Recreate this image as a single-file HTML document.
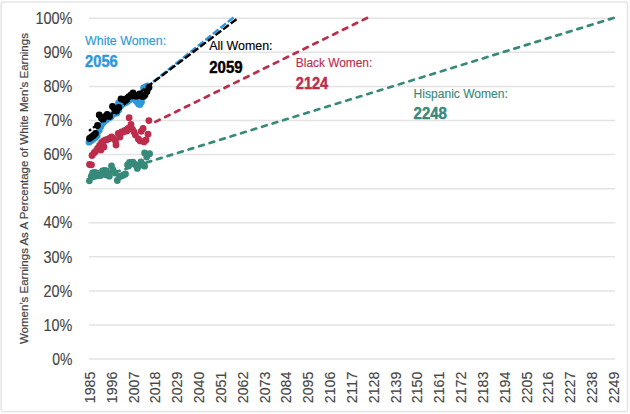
<!DOCTYPE html><html><head><meta charset="utf-8"><style>
html,body{margin:0;padding:0;background:#fff;}
body{width:630px;height:414px;overflow:hidden;}
svg{display:block;font-family:"Liberation Sans",sans-serif;}
</style></head><body>
<svg width="630" height="414" viewBox="0 0 630 414">
<rect x="1.2" y="2" width="626.4" height="409.6" rx="2" fill="#fff" stroke="#E6E6E6" stroke-width="1.6"/>
<line x1="89.0" y1="359.10" x2="615.0" y2="359.10" stroke="#E3E3E3" stroke-width="1.5"/>
<line x1="89.0" y1="325.01" x2="615.0" y2="325.01" stroke="#E3E3E3" stroke-width="1.5"/>
<line x1="89.0" y1="290.92" x2="615.0" y2="290.92" stroke="#E3E3E3" stroke-width="1.5"/>
<line x1="89.0" y1="256.83" x2="615.0" y2="256.83" stroke="#E3E3E3" stroke-width="1.5"/>
<line x1="89.0" y1="222.74" x2="615.0" y2="222.74" stroke="#E3E3E3" stroke-width="1.5"/>
<line x1="89.0" y1="188.65" x2="615.0" y2="188.65" stroke="#E3E3E3" stroke-width="1.5"/>
<line x1="89.0" y1="154.56" x2="615.0" y2="154.56" stroke="#E3E3E3" stroke-width="1.5"/>
<line x1="89.0" y1="120.47" x2="615.0" y2="120.47" stroke="#E3E3E3" stroke-width="1.5"/>
<line x1="89.0" y1="86.38" x2="615.0" y2="86.38" stroke="#E3E3E3" stroke-width="1.5"/>
<line x1="89.0" y1="52.29" x2="615.0" y2="52.29" stroke="#E3E3E3" stroke-width="1.5"/>
<line x1="89.0" y1="18.20" x2="615.0" y2="18.20" stroke="#E3E3E3" stroke-width="1.5"/>
<text x="72.4" y="364.80" text-anchor="end" font-size="15.8" fill="#464646" stroke="#464646" stroke-width="0.15" textLength="20.2" lengthAdjust="spacingAndGlyphs">0%</text>
<text x="72.4" y="330.71" text-anchor="end" font-size="15.8" fill="#464646" stroke="#464646" stroke-width="0.15" textLength="28.8" lengthAdjust="spacingAndGlyphs">10%</text>
<text x="72.4" y="296.62" text-anchor="end" font-size="15.8" fill="#464646" stroke="#464646" stroke-width="0.15" textLength="28.8" lengthAdjust="spacingAndGlyphs">20%</text>
<text x="72.4" y="262.53" text-anchor="end" font-size="15.8" fill="#464646" stroke="#464646" stroke-width="0.15" textLength="28.8" lengthAdjust="spacingAndGlyphs">30%</text>
<text x="72.4" y="228.44" text-anchor="end" font-size="15.8" fill="#464646" stroke="#464646" stroke-width="0.15" textLength="28.8" lengthAdjust="spacingAndGlyphs">40%</text>
<text x="72.4" y="194.35" text-anchor="end" font-size="15.8" fill="#464646" stroke="#464646" stroke-width="0.15" textLength="28.8" lengthAdjust="spacingAndGlyphs">50%</text>
<text x="72.4" y="160.26" text-anchor="end" font-size="15.8" fill="#464646" stroke="#464646" stroke-width="0.15" textLength="28.8" lengthAdjust="spacingAndGlyphs">60%</text>
<text x="72.4" y="126.17" text-anchor="end" font-size="15.8" fill="#464646" stroke="#464646" stroke-width="0.15" textLength="28.8" lengthAdjust="spacingAndGlyphs">70%</text>
<text x="72.4" y="92.08" text-anchor="end" font-size="15.8" fill="#464646" stroke="#464646" stroke-width="0.15" textLength="28.8" lengthAdjust="spacingAndGlyphs">80%</text>
<text x="72.4" y="57.99" text-anchor="end" font-size="15.8" fill="#464646" stroke="#464646" stroke-width="0.15" textLength="28.8" lengthAdjust="spacingAndGlyphs">90%</text>
<text x="72.4" y="23.90" text-anchor="end" font-size="15.8" fill="#464646" stroke="#464646" stroke-width="0.15" textLength="37.0" lengthAdjust="spacingAndGlyphs">100%</text>
<text transform="translate(94.89,371.6) rotate(-90)" text-anchor="end" font-size="15" fill="#464646" stroke="#464646" stroke-width="0.15" textLength="31.6" lengthAdjust="spacingAndGlyphs">1985</text>
<text transform="translate(116.73,371.6) rotate(-90)" text-anchor="end" font-size="15" fill="#464646" stroke="#464646" stroke-width="0.15" textLength="31.6" lengthAdjust="spacingAndGlyphs">1996</text>
<text transform="translate(138.56,371.6) rotate(-90)" text-anchor="end" font-size="15" fill="#464646" stroke="#464646" stroke-width="0.15" textLength="31.6" lengthAdjust="spacingAndGlyphs">2007</text>
<text transform="translate(160.39,371.6) rotate(-90)" text-anchor="end" font-size="15" fill="#464646" stroke="#464646" stroke-width="0.15" textLength="31.6" lengthAdjust="spacingAndGlyphs">2018</text>
<text transform="translate(182.23,371.6) rotate(-90)" text-anchor="end" font-size="15" fill="#464646" stroke="#464646" stroke-width="0.15" textLength="31.6" lengthAdjust="spacingAndGlyphs">2029</text>
<text transform="translate(204.06,371.6) rotate(-90)" text-anchor="end" font-size="15" fill="#464646" stroke="#464646" stroke-width="0.15" textLength="31.6" lengthAdjust="spacingAndGlyphs">2040</text>
<text transform="translate(225.90,371.6) rotate(-90)" text-anchor="end" font-size="15" fill="#464646" stroke="#464646" stroke-width="0.15" textLength="31.6" lengthAdjust="spacingAndGlyphs">2051</text>
<text transform="translate(247.73,371.6) rotate(-90)" text-anchor="end" font-size="15" fill="#464646" stroke="#464646" stroke-width="0.15" textLength="31.6" lengthAdjust="spacingAndGlyphs">2062</text>
<text transform="translate(269.56,371.6) rotate(-90)" text-anchor="end" font-size="15" fill="#464646" stroke="#464646" stroke-width="0.15" textLength="31.6" lengthAdjust="spacingAndGlyphs">2073</text>
<text transform="translate(291.40,371.6) rotate(-90)" text-anchor="end" font-size="15" fill="#464646" stroke="#464646" stroke-width="0.15" textLength="31.6" lengthAdjust="spacingAndGlyphs">2084</text>
<text transform="translate(313.23,371.6) rotate(-90)" text-anchor="end" font-size="15" fill="#464646" stroke="#464646" stroke-width="0.15" textLength="31.6" lengthAdjust="spacingAndGlyphs">2095</text>
<text transform="translate(335.07,371.6) rotate(-90)" text-anchor="end" font-size="15" fill="#464646" stroke="#464646" stroke-width="0.15" textLength="31.6" lengthAdjust="spacingAndGlyphs">2106</text>
<text transform="translate(356.90,371.6) rotate(-90)" text-anchor="end" font-size="15" fill="#464646" stroke="#464646" stroke-width="0.15" textLength="31.6" lengthAdjust="spacingAndGlyphs">2117</text>
<text transform="translate(378.73,371.6) rotate(-90)" text-anchor="end" font-size="15" fill="#464646" stroke="#464646" stroke-width="0.15" textLength="31.6" lengthAdjust="spacingAndGlyphs">2128</text>
<text transform="translate(400.57,371.6) rotate(-90)" text-anchor="end" font-size="15" fill="#464646" stroke="#464646" stroke-width="0.15" textLength="31.6" lengthAdjust="spacingAndGlyphs">2139</text>
<text transform="translate(422.40,371.6) rotate(-90)" text-anchor="end" font-size="15" fill="#464646" stroke="#464646" stroke-width="0.15" textLength="31.6" lengthAdjust="spacingAndGlyphs">2150</text>
<text transform="translate(444.24,371.6) rotate(-90)" text-anchor="end" font-size="15" fill="#464646" stroke="#464646" stroke-width="0.15" textLength="31.6" lengthAdjust="spacingAndGlyphs">2161</text>
<text transform="translate(466.07,371.6) rotate(-90)" text-anchor="end" font-size="15" fill="#464646" stroke="#464646" stroke-width="0.15" textLength="31.6" lengthAdjust="spacingAndGlyphs">2172</text>
<text transform="translate(487.90,371.6) rotate(-90)" text-anchor="end" font-size="15" fill="#464646" stroke="#464646" stroke-width="0.15" textLength="31.6" lengthAdjust="spacingAndGlyphs">2183</text>
<text transform="translate(509.74,371.6) rotate(-90)" text-anchor="end" font-size="15" fill="#464646" stroke="#464646" stroke-width="0.15" textLength="31.6" lengthAdjust="spacingAndGlyphs">2194</text>
<text transform="translate(531.57,371.6) rotate(-90)" text-anchor="end" font-size="15" fill="#464646" stroke="#464646" stroke-width="0.15" textLength="31.6" lengthAdjust="spacingAndGlyphs">2205</text>
<text transform="translate(553.41,371.6) rotate(-90)" text-anchor="end" font-size="15" fill="#464646" stroke="#464646" stroke-width="0.15" textLength="31.6" lengthAdjust="spacingAndGlyphs">2216</text>
<text transform="translate(575.24,371.6) rotate(-90)" text-anchor="end" font-size="15" fill="#464646" stroke="#464646" stroke-width="0.15" textLength="31.6" lengthAdjust="spacingAndGlyphs">2227</text>
<text transform="translate(597.07,371.6) rotate(-90)" text-anchor="end" font-size="15" fill="#464646" stroke="#464646" stroke-width="0.15" textLength="31.6" lengthAdjust="spacingAndGlyphs">2238</text>
<text transform="translate(618.91,371.6) rotate(-90)" text-anchor="end" font-size="15" fill="#464646" stroke="#464646" stroke-width="0.15" textLength="31.6" lengthAdjust="spacingAndGlyphs">2249</text>
<text transform="translate(27.9,188.6) rotate(-90)" text-anchor="middle" font-size="11.8" fill="#464646" stroke="#464646" stroke-width="0.2" textLength="311" lengthAdjust="spacingAndGlyphs">Women’s Earnings As A Percentage of White Men’s Earnings</text>
<line x1="613.5" y1="18" x2="89" y2="180.3" stroke="#378A7A" stroke-width="2.75" stroke-dasharray="4.8 6.2" stroke-linecap="round"/>
<line x1="367" y1="18" x2="150" y2="124.5" stroke="#BC2D4C" stroke-width="2.75" stroke-dasharray="4.8 6.2" stroke-linecap="round"/>
<g fill="#378A7A"><circle cx="89.4" cy="180.8" r="3.4"/><circle cx="91.2" cy="176.5" r="3.4"/><circle cx="92.6" cy="173" r="3.4"/><circle cx="94.5" cy="172.5" r="3.4"/><circle cx="96.5" cy="173" r="3.4"/><circle cx="96" cy="175.5" r="3.4"/><circle cx="98.5" cy="175.5" r="3.4"/><circle cx="100.7" cy="175.5" r="3.4"/><circle cx="102.5" cy="171" r="3.4"/><circle cx="104.5" cy="170.5" r="3.4"/><circle cx="105.8" cy="174.8" r="3.4"/><circle cx="106.5" cy="171" r="3.4"/><circle cx="108.5" cy="174" r="3.4"/><circle cx="109.3" cy="176.2" r="3.4"/><circle cx="111.5" cy="166" r="3.4"/><circle cx="113" cy="170" r="3.4"/><circle cx="115" cy="173" r="3.4"/><circle cx="117.3" cy="180.5" r="3.4"/><circle cx="119.5" cy="176.5" r="3.4"/><circle cx="121.5" cy="176" r="3.4"/><circle cx="123.5" cy="175" r="3.4"/><circle cx="125.5" cy="174" r="3.4"/><circle cx="127.5" cy="165" r="3.4"/><circle cx="129.3" cy="164.8" r="3.4"/><circle cx="129.5" cy="162.5" r="3.4"/><circle cx="131.5" cy="162.5" r="3.4"/><circle cx="133" cy="162.2" r="3.4"/><circle cx="135" cy="164.5" r="3.4"/><circle cx="137.3" cy="168.4" r="3.4"/><circle cx="137.5" cy="166" r="3.4"/><circle cx="139.5" cy="165.5" r="3.4"/><circle cx="141" cy="161.8" r="3.4"/><circle cx="143" cy="164.5" r="3.4"/><circle cx="144.6" cy="166.2" r="3.4"/><circle cx="144.6" cy="153" r="3.4"/><circle cx="146.7" cy="157" r="3.4"/><circle cx="149.6" cy="153.7" r="3.4"/></g>
<g fill="#BC2D4C"><circle cx="89.5" cy="164.5" r="3.4"/><circle cx="91.5" cy="164.8" r="3.4"/><circle cx="92" cy="155.5" r="3.4"/><circle cx="94" cy="153" r="3.4"/><circle cx="95.5" cy="151.5" r="3.4"/><circle cx="97.5" cy="148.5" r="3.4"/><circle cx="99.5" cy="145.5" r="3.4"/><circle cx="101" cy="150" r="3.4"/><circle cx="101.5" cy="142.5" r="3.4"/><circle cx="103.5" cy="141" r="3.4"/><circle cx="104" cy="147" r="3.4"/><circle cx="105.5" cy="140" r="3.4"/><circle cx="107.5" cy="139.5" r="3.4"/><circle cx="109.5" cy="138.5" r="3.4"/><circle cx="111.5" cy="137" r="3.4"/><circle cx="113.5" cy="138.5" r="3.4"/><circle cx="115.5" cy="141" r="3.4"/><circle cx="116" cy="145" r="3.4"/><circle cx="118.3" cy="133.5" r="3.4"/><circle cx="120" cy="137" r="3.4"/><circle cx="121.5" cy="132" r="3.4"/><circle cx="123.5" cy="132" r="3.4"/><circle cx="124.8" cy="130.3" r="3.4"/><circle cx="127" cy="131" r="3.4"/><circle cx="128" cy="128.5" r="3.4"/><circle cx="129.1" cy="117.7" r="3.4"/><circle cx="131" cy="124.5" r="3.4"/><circle cx="132.5" cy="129.3" r="3.4"/><circle cx="134" cy="132" r="3.4"/><circle cx="135.4" cy="135.1" r="3.4"/><circle cx="138.3" cy="139" r="3.4"/><circle cx="140.2" cy="140.9" r="3.4"/><circle cx="141.2" cy="131.3" r="3.4"/><circle cx="143.1" cy="128.4" r="3.4"/><circle cx="144.1" cy="141.9" r="3.4"/><circle cx="146" cy="140" r="3.4"/><circle cx="148" cy="134.2" r="3.4"/><circle cx="148.9" cy="120.6" r="3.4"/></g>
<g fill="#2F98DA"><circle cx="89" cy="142.2" r="3.4"/><circle cx="91.2" cy="140.8" r="3.4"/><circle cx="93.2" cy="139.2" r="3.4"/><circle cx="95.2" cy="137.8" r="3.4"/><circle cx="97.2" cy="135.8" r="3.4"/><circle cx="99.2" cy="130.5" r="3.4"/><circle cx="100.9" cy="126.5" r="3.4"/><circle cx="102.9" cy="123" r="3.4"/><circle cx="104.8" cy="121" r="3.4"/><circle cx="106.8" cy="119.5" r="3.4"/><circle cx="108.8" cy="118" r="3.4"/><circle cx="110.8" cy="117" r="3.4"/><circle cx="112.8" cy="114.5" r="3.4"/><circle cx="114.8" cy="113.5" r="3.4"/><circle cx="116.8" cy="113" r="3.4"/><circle cx="118.8" cy="110" r="3.4"/><circle cx="118.5" cy="103" r="3.4"/><circle cx="120.8" cy="106" r="3.4"/><circle cx="122.8" cy="104" r="3.4"/><circle cx="124.8" cy="103" r="3.4"/><circle cx="126.8" cy="102" r="3.4"/><circle cx="128.8" cy="100.5" r="3.4"/><circle cx="130.8" cy="99" r="3.4"/><circle cx="132.5" cy="98.8" r="3.4"/><circle cx="134.5" cy="99.2" r="3.4"/><circle cx="136.5" cy="101.5" r="3.4"/><circle cx="138.5" cy="104" r="3.4"/><circle cx="140" cy="104.5" r="3.4"/><circle cx="141.5" cy="102" r="3.4"/><circle cx="143.5" cy="88" r="3.4"/><circle cx="145.5" cy="87" r="3.4"/><circle cx="147.5" cy="86" r="3.4"/></g>
<line x1="233.5" y1="17.5" x2="148" y2="86" stroke="#2F98DA" stroke-width="2.4" stroke-dasharray="7.2 2.4"/>
<g fill="#000000"><circle cx="89.5" cy="138.5" r="3.4"/><circle cx="91.5" cy="137" r="3.4"/><circle cx="93.5" cy="135.5" r="3.4"/><circle cx="95.5" cy="133.5" r="3.4"/><circle cx="97.5" cy="125.5" r="3.4"/><circle cx="99.2" cy="115" r="3.4"/><circle cx="101.3" cy="118" r="3.4"/><circle cx="103.3" cy="119" r="3.4"/><circle cx="105.3" cy="116.5" r="3.4"/><circle cx="107.2" cy="114.5" r="3.4"/><circle cx="109.5" cy="116.5" r="3.4"/><circle cx="112.5" cy="106.5" r="3.4"/><circle cx="114.5" cy="109" r="3.4"/><circle cx="116.6" cy="111" r="3.4"/><circle cx="118.8" cy="107.5" r="3.4"/><circle cx="121" cy="98.8" r="3.4"/><circle cx="123" cy="99.5" r="3.4"/><circle cx="125.3" cy="100.5" r="3.4"/><circle cx="127" cy="98.5" r="3.4"/><circle cx="128.8" cy="96.6" r="3.4"/><circle cx="131" cy="95" r="3.4"/><circle cx="133" cy="93" r="3.4"/><circle cx="135" cy="96" r="3.4"/><circle cx="137" cy="96" r="3.4"/><circle cx="139.5" cy="94" r="3.4"/><circle cx="141.5" cy="96" r="3.4"/><circle cx="143.5" cy="96.5" r="3.4"/><circle cx="145" cy="95" r="3.4"/><circle cx="147" cy="91.5" r="3.4"/><circle cx="149" cy="87.5" r="3.4"/></g>
<line x1="236.5" y1="19.2" x2="89" y2="130.9" stroke="#000000" stroke-width="2.4" stroke-dasharray="7.2 2.4"/>
<text x="85.1" y="44.7" font-size="12.5" stroke="#2F98DA" stroke-width="0.15" fill="#2F98DA" textLength="81" lengthAdjust="spacingAndGlyphs">White Women:</text>
<text x="85.1" y="66.8" font-size="15.8" font-weight="bold" stroke="#2F98DA" stroke-width="0.45" fill="#2F98DA" textLength="32.7" lengthAdjust="spacingAndGlyphs">2056</text>
<text x="209.3" y="50.3" font-size="12.5" stroke="#000000" stroke-width="0.15" fill="#000000" textLength="63.2" lengthAdjust="spacingAndGlyphs">All Women:</text>
<text x="209.3" y="72.8" font-size="15.8" font-weight="bold" stroke="#000000" stroke-width="0.45" fill="#000000" textLength="33.3" lengthAdjust="spacingAndGlyphs">2059</text>
<text x="295.8" y="66.6" font-size="12.5" stroke="#BC2D4C" stroke-width="0.15" fill="#BC2D4C" textLength="76.5" lengthAdjust="spacingAndGlyphs">Black Women:</text>
<text x="295.8" y="88.7" font-size="15.8" font-weight="bold" stroke="#BC2D4C" stroke-width="0.45" fill="#BC2D4C" textLength="32.4" lengthAdjust="spacingAndGlyphs">2124</text>
<text x="413.6" y="97.6" font-size="12.5" stroke="#378A7A" stroke-width="0.15" fill="#378A7A" textLength="94.3" lengthAdjust="spacingAndGlyphs">Hispanic Women:</text>
<text x="413.6" y="118.89999999999999" font-size="15.8" font-weight="bold" stroke="#378A7A" stroke-width="0.45" fill="#378A7A" textLength="33.3" lengthAdjust="spacingAndGlyphs">2248</text>
</svg></body></html>
